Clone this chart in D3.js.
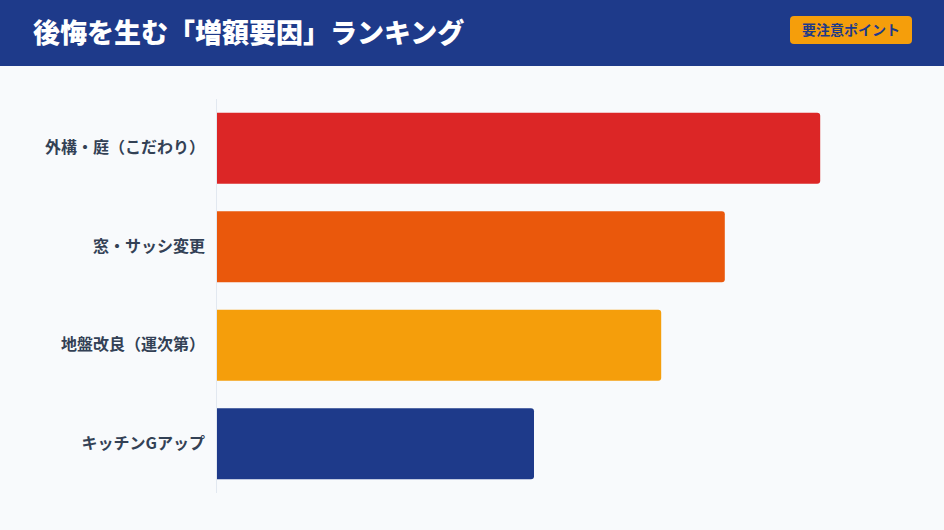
<!DOCTYPE html>
<html>
<head>
<meta charset="utf-8">
<script src="https://cdn.jsdelivr.net/npm/d3@7"></script>
<style>
  html, body { margin: 0; padding: 0; background: #f8fafc; }
  svg { display: block; font-family: "Noto Sans CJK JP", "Noto Sans", sans-serif; }
</style>
</head>
<body>
<svg id="chart"></svg>
<script>
// Ranking data
var categories = ["外構・庭（こだわり）", "窓・サッシ変更", "地盤改良（運次第）", "キッチンGアップ"];
var values = [95, 80, 70, 50];
var barColours = ["#dc2626", "#ea580c", "#f59e0b", "#1e3a8a"];

var width = 944,
  height = 530,
  headerHeight = 66;

var margin = { top: 99, right: 92, bottom: 37, left: 216 };

var svg = d3.select("#chart").attr("width", width).attr("height", height);

// Background
svg.append("rect").attr("width", width).attr("height", height).attr("fill", "#f8fafc");

// Header band
svg.append("rect").attr("width", width).attr("height", headerHeight).attr("fill", "#1e3a8a");

svg.append("text")
  .attr("x", 33)
  .attr("y", 43)
  .attr("fill", "#fff")
  .style("font-size", "27px")
  .style("font-weight", 900)
  .text("後悔を生む「増額要因」ランキング");

// Badge on the right
var badge = svg.append("g").attr("transform", "translate(790,16)");
badge.append("rect")
  .attr("width", 122)
  .attr("height", 28)
  .attr("rx", 4)
  .attr("fill", "#f59e0b");
badge.append("text")
  .attr("x", 61)
  .attr("y", 19)
  .style("text-anchor", "middle")
  .attr("fill", "#1e3a8a")
  .style("font-size", "14px")
  .style("font-weight", 700)
  .text("要注意ポイント");

// Scales
var x = d3.scaleLinear().domain([0, 100]).range([margin.left, width - margin.right]);
var y = d3.scaleBand()
  .domain(categories)
  .range([margin.top, height - margin.bottom])
  .paddingInner(0.28)
  .paddingOuter(0.14);

// Bars: rounded on the right end only
function barPath(d, i) {
  var x0 = x(0), x1 = x(d), y0 = y(categories[i]), h = y.bandwidth(), r = 3;
  return "M" + x0 + "," + y0 +
    "H" + (x1 - r) +
    "Q" + x1 + "," + y0 + " " + x1 + "," + (y0 + r) +
    "V" + (y0 + h - r) +
    "Q" + x1 + "," + (y0 + h) + " " + (x1 - r) + "," + (y0 + h) +
    "H" + x0 + "Z";
}

svg.append("g")
  .selectAll("path")
  .data(values)
  .enter()
  .append("path")
  .attr("d", barPath)
  .attr("fill", function (d, i) { return barColours[i]; });

// Y axis: labels and a thin line, no ticks
var yAxis = svg.append("g")
  .attr("transform", "translate(" + margin.left + ",0)")
  .call(d3.axisLeft(y).tickSize(0).tickPadding(11));

yAxis.select(".domain")
  .attr("stroke", "#e2e8f0")
  .attr("d", "M0.5," + margin.top + "V" + (height - margin.bottom));

yAxis.selectAll("text")
  .attr("fill", "#334155")
  .style("font-size", "16px")
  .style("font-weight", 700)
  .style("font-family", "'Noto Sans CJK JP', sans-serif");
</script>
</body>
</html>
